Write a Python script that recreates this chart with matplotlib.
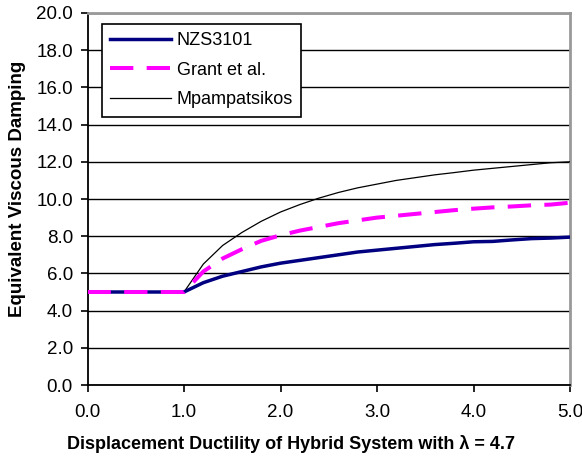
import matplotlib
matplotlib.use("Agg")
import matplotlib.pyplot as plt
import numpy as np

plt.rcParams['font.family'] = ['Liberation Sans', 'DejaVu Sans']

# ductility values (Excel data points every 0.2)
mu = [0.0, 0.2, 0.4, 0.6, 0.8, 1.0, 1.2, 1.4, 1.6, 1.8, 2.0, 2.2, 2.4, 2.6,
      2.8, 3.0, 3.2, 3.4, 3.6, 3.8, 4.0, 4.2, 4.4, 4.6, 4.8, 5.0]

nzs3101 = [5.0, 5.0, 5.0, 5.0, 5.0, 5.0, 5.5, 5.85, 6.1, 6.35, 6.55, 6.7, 6.85,
           7.0, 7.15, 7.25, 7.35, 7.45, 7.55, 7.62, 7.7, 7.72, 7.8, 7.87, 7.9, 7.95]
grant = [5.0, 5.0, 5.0, 5.0, 5.0, 5.0, 6.1, 6.8, 7.3, 7.75, 8.05, 8.3, 8.5,
         8.7, 8.85, 9.0, 9.1, 9.2, 9.3, 9.4, 9.48, 9.55, 9.6, 9.66, 9.7, 9.8]
mpampatsikos = [5.0, 5.0, 5.0, 5.0, 5.0, 5.0, 6.5, 7.5, 8.2, 8.8, 9.3, 9.7, 10.05,
                10.35, 10.6, 10.8, 11.0, 11.15, 11.3, 11.42, 11.55, 11.65, 11.75,
                11.85, 11.95, 12.0]

x_ticks = [0.0, 1.0, 2.0, 3.0, 4.0, 5.0]
y_ticks = [0.0, 2.0, 4.0, 6.0, 8.0, 10.0, 12.0, 14.0, 16.0, 18.0, 20.0]

fig = plt.figure(figsize=(5.82, 4.61), dpi=100)
ax = fig.add_axes([87.5 / 582, 76 / 461, 482.5 / 582, 372 / 461])

ax.plot(mu, nzs3101, color='#000080', lw=2.5, label='NZS3101', zorder=3.5)
ax.plot(mu, grant, color='#FF00FF', lw=2.9, dashes=(5.8, 3.3), label='Grant et al.', zorder=4)
ax.plot(mu, mpampatsikos, color='black', lw=0.9, label='Mpampatsikos', zorder=3)

ax.set_xlim(0, 5)
ax.set_ylim(0, 20)
ax.set_xticks(x_ticks)
ax.set_xticklabels([f'{v:.1f}' for v in x_ticks])
ax.set_yticks(y_ticks)
ax.set_yticklabels([f'{v:.1f}' for v in y_ticks])
ax.yaxis.grid(True, color='black', lw=1.0)
ax.set_axisbelow(True)

ax.tick_params(direction='out', length=5, width=1.2, labelsize=13.5, colors='black')
ax.tick_params(axis='y', pad=5.5)
ax.tick_params(axis='x', pad=8.5)
for side in ('right', 'top'):
    ax.spines[side].set_color('#999999')
    ax.spines[side].set_linewidth(2)
ax.spines['left'].set_linewidth(1.3)
ax.spines['bottom'].set_linewidth(1.3)

ax.set_xlabel('Displacement Ductility of Hybrid System with \u03bb = 4.7',
              fontsize=13, fontweight='bold', labelpad=10)
ax.set_ylabel('Equivalent Viscous Damping', fontsize=13.5, fontweight='bold', labelpad=7)
# labels in the original are centred on the chart area, not the plot area
ax.xaxis.label.set_x(0.4218)
ax.yaxis.label.set_y(0.527)

leg = ax.legend(loc='upper left', bbox_to_anchor=(0.030, 0.9704), fontsize=13,
                frameon=True, fancybox=False, edgecolor='black', framealpha=1,
                handlelength=3.4, borderpad=0.45, labelspacing=0.7,
                handletextpad=0.3, borderaxespad=0)
leg.get_frame().set_linewidth(1.2)

fig.savefig('out.png', dpi=100)
